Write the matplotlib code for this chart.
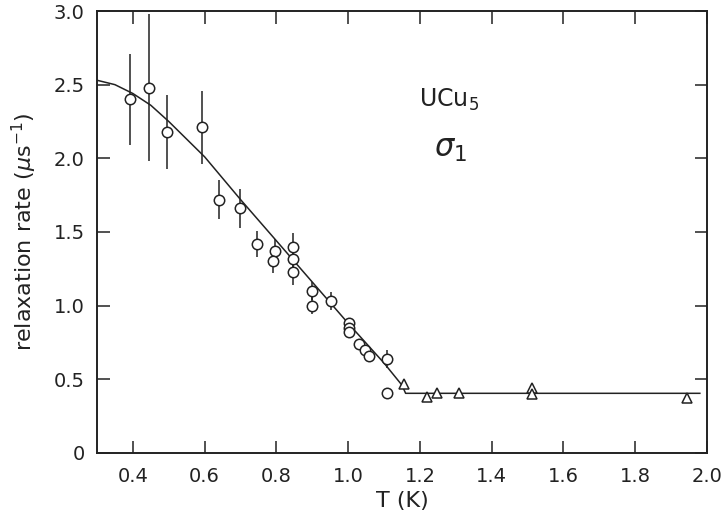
import matplotlib
matplotlib.use("Agg")
import matplotlib.pyplot as plt

plt.rcParams['font.family'] = ['DejaVu Sans']
plt.rcParams['mathtext.fontset'] = 'dejavusans'

# muon relaxation rate, open circles (with error bars where drawn)
circle_T = [0.392, 0.444, 0.496, 0.593, 0.641, 0.699, 0.745, 0.796, 0.790,
            0.847, 0.847, 0.847, 0.898, 0.898, 0.952, 1.003, 1.003, 1.003,
            1.031, 1.047, 1.059, 1.107, 1.109]
circle_rate = [2.40, 2.48, 2.18, 2.21, 1.72, 1.66, 1.42, 1.37, 1.30,
               1.40, 1.32, 1.23, 1.10, 1.00, 1.03, 0.88, 0.85, 0.82,
               0.74, 0.70, 0.66, 0.64, 0.41]
circle_err = [0.31, 0.50, 0.25, 0.25, 0.13, 0.13, 0.09, 0.08, 0.08,
              0.09, 0.09, 0.09, 0.06, 0.06, 0.06, 0.0, 0.0, 0.0,
              0.0, 0.0, 0.0, 0.06, 0.0]

# open triangles
tri_T = [1.156, 1.221, 1.248, 1.309, 1.513, 1.513, 1.944]
tri_rate = [0.47, 0.38, 0.41, 0.405, 0.44, 0.40, 0.37]

# guide line drawn through the data
fit_T = [0.30, 0.35, 0.40, 0.45, 0.50, 0.55, 0.60, 0.70, 0.80, 0.90,
         1.00, 1.10, 1.15, 1.16, 1.98]
fit_rate = [2.53, 2.50, 2.44, 2.36, 2.25, 2.13, 2.01, 1.72, 1.44, 1.16,
            0.88, 0.61, 0.46, 0.405, 0.405]

x_ticks = [0.4, 0.6, 0.8, 1.0, 1.2, 1.4, 1.6, 1.8, 2.0]
y_ticks = [0, 0.5, 1.0, 1.5, 2.0, 2.5, 3.0]
y_ticklabels = ['0', '0.5', '1.0', '1.5', '2.0', '2.5', '3.0']

fig = plt.figure(figsize=(7.25, 5.29), dpi=100)
ax = fig.add_axes([0.1338, 0.1437, 0.8414, 0.8355])

ax.plot(fit_T, fit_rate, color='#222222', lw=1.1, zorder=1)
ax.errorbar(circle_T, circle_rate, yerr=circle_err, fmt='o', ms=7.5,
            mfc='white', mec='#222222', mew=1.1, ecolor='#222222',
            elinewidth=1.1, capsize=0, zorder=3)
ax.plot(tri_T, tri_rate, '^', ms=6.5, mfc='white', mec='#222222',
        mew=1.1, ls='none', zorder=3)

ax.set_xlim(0.3, 2.0)
ax.set_ylim(0, 3.0)
ax.set_xticks(x_ticks)
ax.set_xticklabels([f'{t:.1f}' for t in x_ticks])
ax.set_yticks(y_ticks)
ax.set_yticklabels(y_ticklabels)
ax.tick_params(direction='in', length=9, width=1.1, top=True, right=True,
               labelsize=14, colors='#222222')
ax.tick_params(axis='x', pad=10)
ax.tick_params(axis='y', pad=9)
for s in ax.spines.values():
    s.set_linewidth(1.4)
    s.set_color('#222222')

ax.set_xlabel('T (K)', fontsize=16, color='#222222', labelpad=4)
ax.set_ylabel(r'relaxation rate ($\mu$s$^{-1}$)', fontsize=16,
              color='#222222', labelpad=10)

ax.text(1.28, 2.35, r'UCu$_5$', fontsize=17, color='#222222',
        ha='center', va='baseline')
ax.text(1.285, 2.01, r'$\sigma_\mathregular{1}$', fontsize=22, color='#222222',
        ha='center', va='baseline')

fig.savefig('out.png', dpi=100, facecolor='white')
